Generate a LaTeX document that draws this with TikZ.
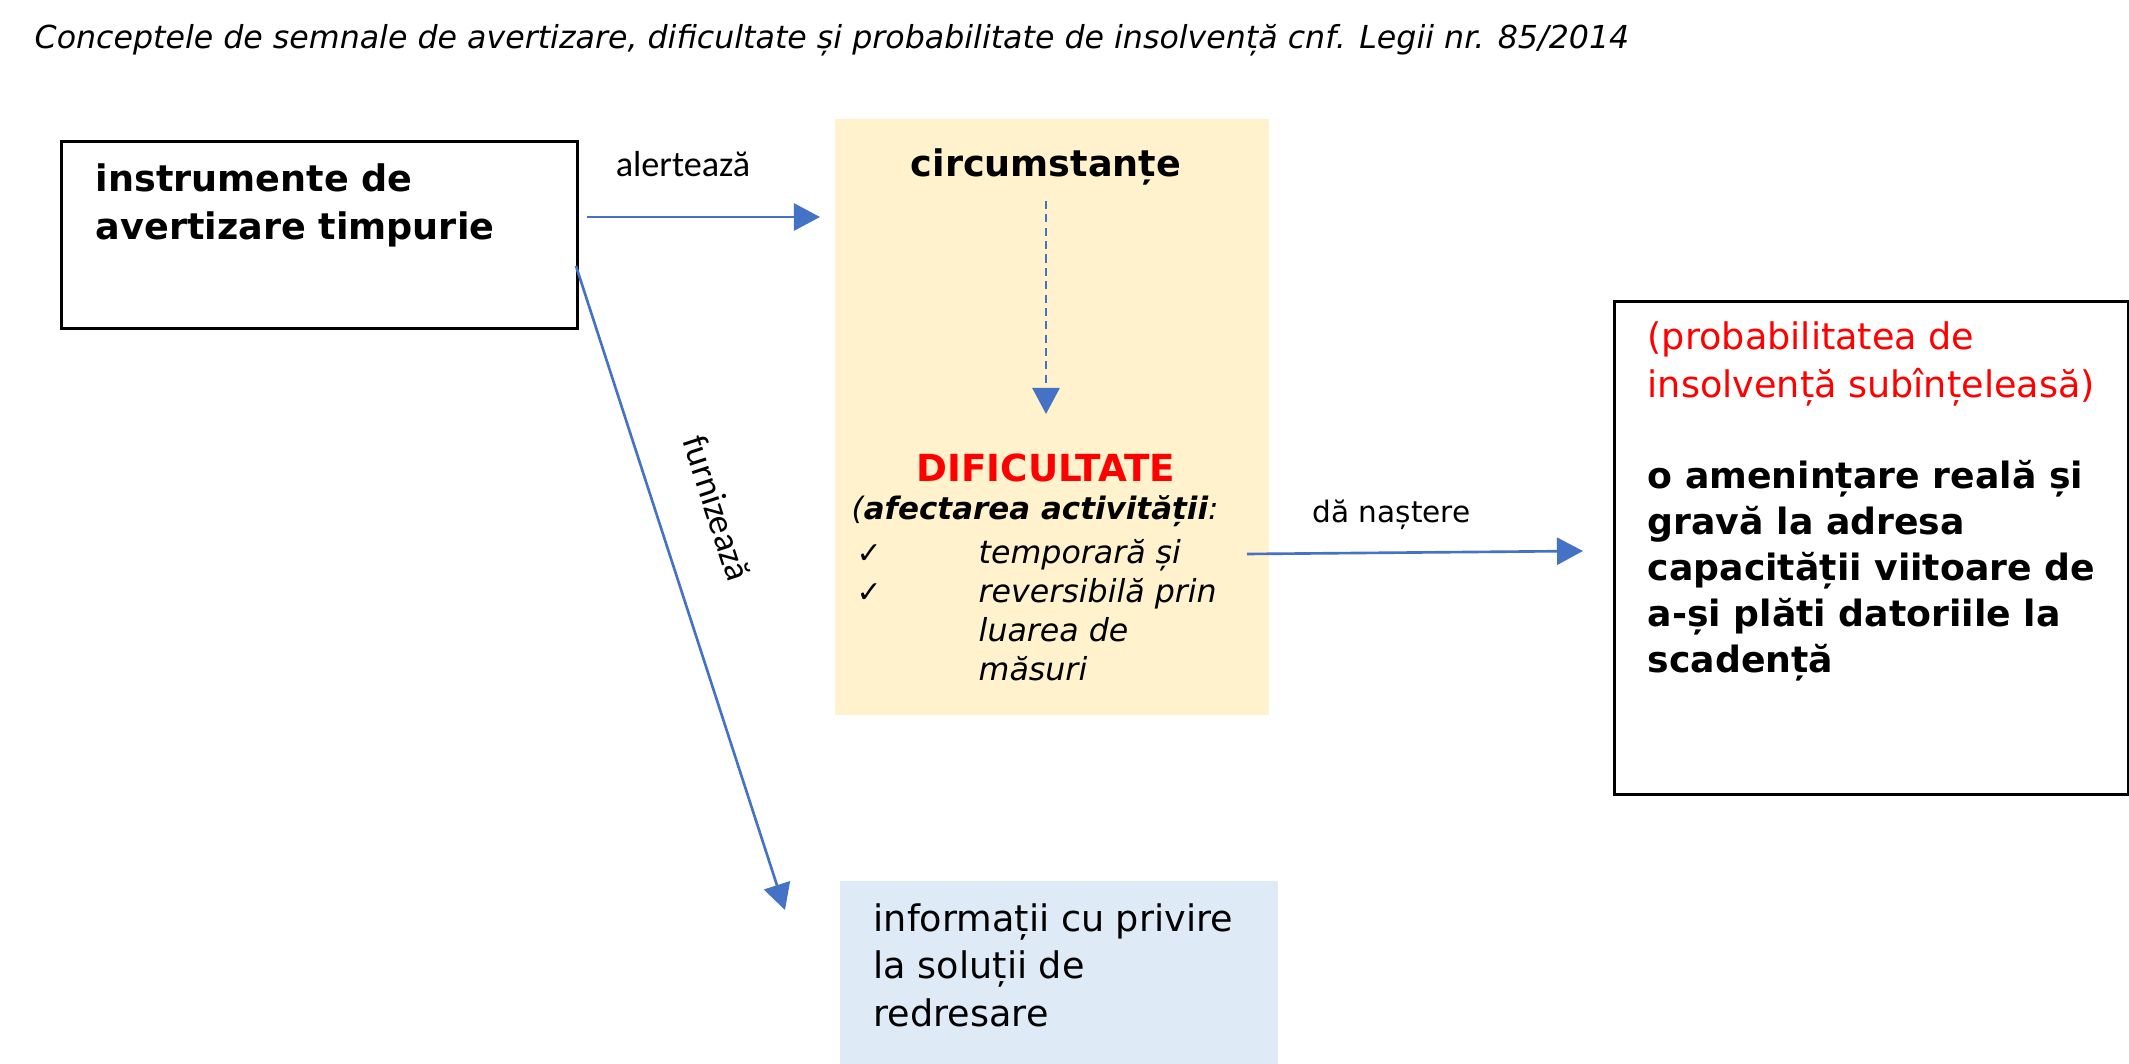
\documentclass[tikz,border=0pt]{standalone}
\usepackage{fontspec}
\setmainfont{DejaVu Sans}
\newfontfamily\calib{Carlito}
\usetikzlibrary{arrows.meta}
\definecolor{arrblue}{HTML}{4472C4}
\definecolor{yelfill}{HTML}{FFF2CC}
\definecolor{blufill}{HTML}{DEEBF7}
\definecolor{redtxt}{HTML}{FF0000}
\begin{document}
\begin{tikzpicture}[x=0.01cm,y=-0.01cm,
  frame/.style={draw=black, line width=0.8pt, inner sep=0, anchor=north west},
  panel/.style={inner sep=0, anchor=north west},
  arr/.style={draw=arrblue, line width=0.75pt, -{Triangle[width=0.27cm,length=0.26cm]}},
  txt/.style={anchor=base west, inner sep=0, align=left},
  ctxt/.style={anchor=base, inner sep=0},
  bigb/.style={font=\fontsize{10.4}{13.9}\selectfont\bfseries},
  bigr/.style={font=\fontsize{10.4}{13.9}\selectfont},
  lbl/.style={inner sep=0, font=\calib\fontsize{10.3}{12}\selectfont}
]
\useasboundingbox (0,0) rectangle (2129,1064);
\fill[white] (0,0) rectangle (2129,1064);

% title
\node (title) [txt, font=\fontsize{9.0}{11}\selectfont\itshape] at (34,49)
  {Conceptele de semnale de avertizare, dificultate și probabilitate de insolvență cnf. Legii nr. 85/2014};

% panels
\node (left) [frame, minimum width=5.16cm, minimum height=1.87cm] at (60,140) {};
\node (yel) [panel, fill=yelfill, minimum width=4.34cm, minimum height=5.96cm] at (834,118) {};
\node (right) [frame, minimum width=5.14cm, minimum height=4.93cm] at (1613,300) {};
\node (blue) [panel, fill=blufill, minimum width=4.38cm, minimum height=1.84cm] at (839,880) {};

% texts (multi-line nodes: base = baseline of last line)
\node (leftT) [txt, bigb] at (95,240) {instrumente de\\avertizare timpurie};
\node (circ) [ctxt, font=\fontsize{10.4}{13.9}\selectfont\bfseries] at (1046,177) {circumstanțe};
\node (dif) [ctxt, text=redtxt, font=\fontsize{10.6}{13.9}\selectfont\bfseries] at (1046,482) {DIFICULTATE};
\node (afect) [txt, font=\fontsize{8.8}{11.1}\selectfont\itshape] at (851,520) {(\textbf{afectarea activității}:};
\node (ck1) [txt, font=\fontsize{8.5}{11.1}\selectfont\bfseries] at (856,564) {✓};
\node (ck2) [txt, font=\fontsize{8.5}{11.1}\selectfont\bfseries] at (856,603) {✓};
\node (lst) [txt, font=\fontsize{9.0}{11.1}\selectfont\itshape] at (978,681)
  {temporară și\\reversibilă prin\\luarea de\\măsuri};
\node (redT) [txt, text=redtxt, bigr] at (1647,398) {(probabilitatea de\\insolvență subînțeleasă)};
\node (thr) [txt, font=\fontsize{10.3}{13.1}\selectfont\bfseries] at (1647,673)
  {o amenințare reală și\\gravă la adresa\\capacității viitoare de\\a-și plăti datoriile la\\scadență};
\node (info) [txt, font=\fontsize{10.4}{13.4}\selectfont] at (873,1026)
  {informații cu privire\\la soluții de\\redresare};

% connector ends
\coordinate (a1) at (587,217);
\coordinate (a2) at (820,217);
\coordinate (f1) at (576,266);
\coordinate (f2) at (785,910);
\coordinate (d1) at (1046,201);
\coordinate (d2) at (1046,414);
\coordinate (n1) at (1247,554);
\coordinate (n2) at (1583,551);

\draw[arr] (a1) -- (a2);
\draw[arr] (f1) -- (f2);
\draw[arr, dash pattern=on 2.3pt off 1.5pt] (d1) -- (d2);
\draw[arr] (n1) -- (n2);

% labels
\node (alrt) [lbl] at (683,164) {alertează};
\node (furn) [lbl, rotate=-72] at (717,508) {furnizează};
\node (nast) [inner sep=0, anchor=base west, font=\fontsize{8.4}{10}\selectfont] at (1312,523) {dă naștere};
\end{tikzpicture}
\end{document}
